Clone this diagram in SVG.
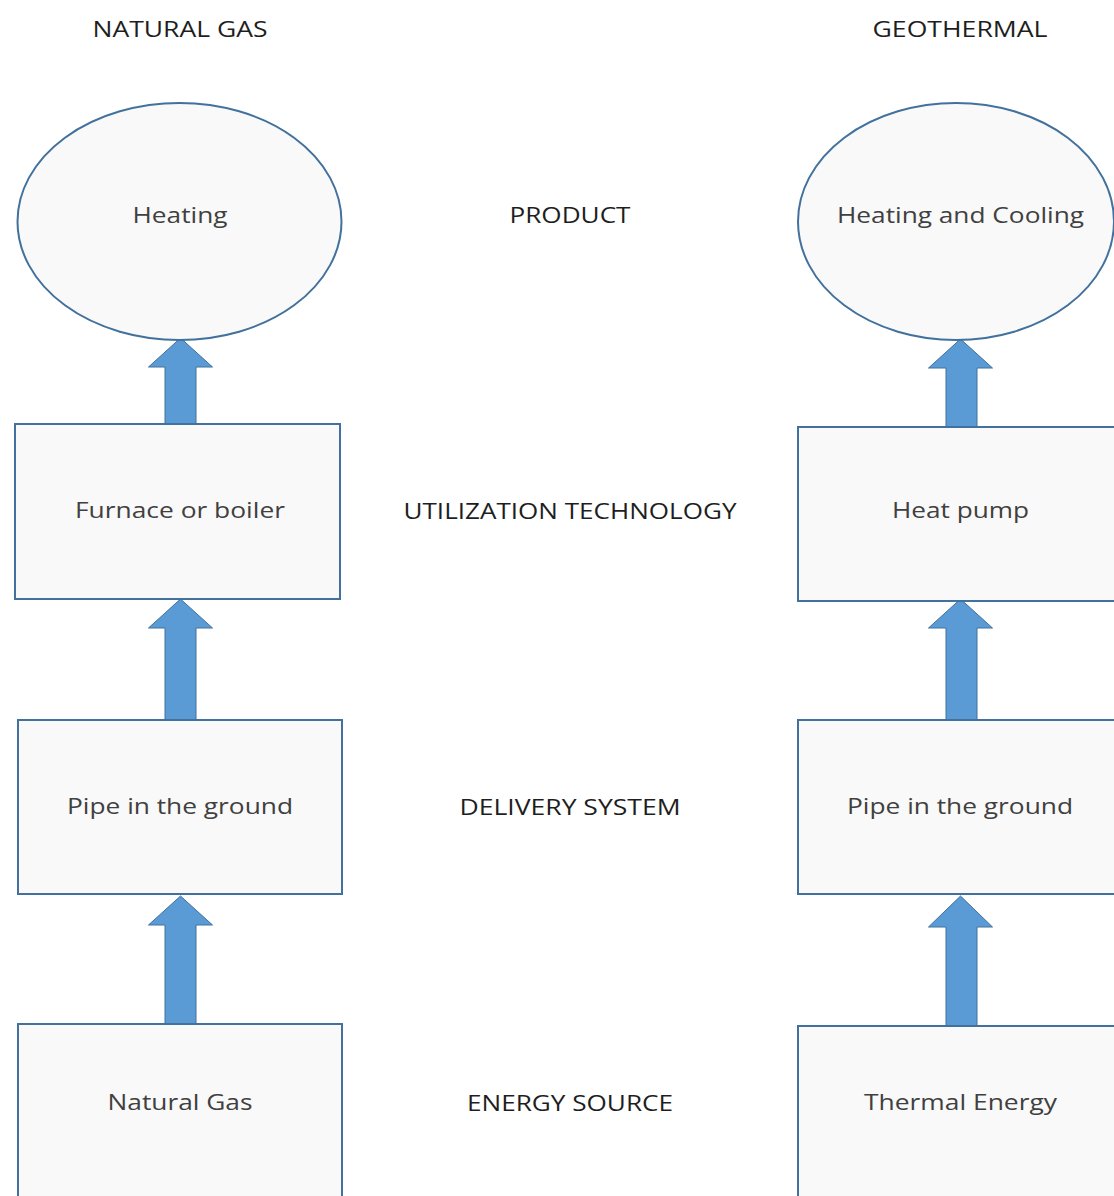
<svg xmlns="http://www.w3.org/2000/svg" width="1114" height="1196" viewBox="0 0 1114 1196">
<style>
.shape{fill:#f9f9f9;stroke:#41719c;stroke-width:2}
.arrow{fill:#5b9bd5;stroke:#41719c;stroke-width:1}
.head{font-family:"Open Sans","Liberation Sans",sans-serif;font-size:22px;fill:#1e1e1e;text-anchor:middle}
.lbl{font-family:"Open Sans","Liberation Sans",sans-serif;font-size:22px;fill:#404040;text-anchor:middle}
</style>
<rect width="1114" height="1196" fill="#ffffff"/>
<g id="headings">
<text class="head" x="180" y="37" textLength="175" lengthAdjust="spacingAndGlyphs">NATURAL GAS</text>
<text class="head" x="960" y="37" textLength="175" lengthAdjust="spacingAndGlyphs">GEOTHERMAL</text>
<text class="head" x="570" y="223" textLength="121" lengthAdjust="spacingAndGlyphs">PRODUCT</text>
<text class="head" x="570" y="519" textLength="333" lengthAdjust="spacingAndGlyphs">UTILIZATION TECHNOLOGY</text>
<text class="head" x="570" y="815" textLength="221" lengthAdjust="spacingAndGlyphs">DELIVERY SYSTEM</text>
<text class="head" x="570" y="1111" textLength="206" lengthAdjust="spacingAndGlyphs">ENERGY SOURCE</text>
</g>
<g id="connectors">
<polygon class="arrow" points="180.5,338 212.5,367 196,367 196,424 165,424 165,367 148.5,367"/>
<polygon class="arrow" points="180.5,599 212.5,628 196,628 196,720 165,720 165,628 148.5,628"/>
<polygon class="arrow" points="180.5,896 212.5,925 196,925 196,1024 165,1024 165,925 148.5,925"/>
<polygon class="arrow" points="960.5,339 992.5,368 977,368 977,427 946,427 946,368 928.5,368"/>
<polygon class="arrow" points="960.5,599 992.5,628 977,628 977,720 946,720 946,628 928.5,628"/>
<polygon class="arrow" points="960.5,896 992.5,927 977,927 977,1026 946,1026 946,927 928.5,927"/>
</g>
<g id="ng-product">
<ellipse class="shape" cx="179.5" cy="221.5" rx="162" ry="118.5"/>
<text class="lbl" x="180" y="223" textLength="95" lengthAdjust="spacingAndGlyphs">Heating</text>
</g>
<g id="ng-utilization">
<rect class="shape" x="15" y="424" width="325" height="175"/>
<text class="lbl" x="180" y="518" textLength="210" lengthAdjust="spacingAndGlyphs">Furnace or boiler</text>
</g>
<g id="ng-delivery">
<rect class="shape" x="18" y="720" width="324" height="174"/>
<text class="lbl" x="180" y="814" textLength="226" lengthAdjust="spacingAndGlyphs">Pipe in the ground</text>
</g>
<g id="ng-source">
<rect class="shape" x="18" y="1024" width="324" height="190"/>
<text class="lbl" x="180" y="1110" textLength="145" lengthAdjust="spacingAndGlyphs">Natural Gas</text>
</g>
<g id="geo-product">
<ellipse class="shape" cx="956" cy="221.5" rx="158" ry="118.5"/>
<text class="lbl" x="960.5" y="223" textLength="247" lengthAdjust="spacingAndGlyphs">Heating and Cooling</text>
</g>
<g id="geo-utilization">
<rect class="shape" x="798" y="427" width="330" height="174"/>
<text class="lbl" x="960.5" y="518" textLength="137" lengthAdjust="spacingAndGlyphs">Heat pump</text>
</g>
<g id="geo-delivery">
<rect class="shape" x="798" y="720" width="330" height="174"/>
<text class="lbl" x="960" y="814" textLength="226" lengthAdjust="spacingAndGlyphs">Pipe in the ground</text>
</g>
<g id="geo-source">
<rect class="shape" x="798" y="1026" width="330" height="190"/>
<text class="lbl" x="960.5" y="1110" textLength="193" lengthAdjust="spacingAndGlyphs">Thermal Energy</text>
</g>
</svg>
